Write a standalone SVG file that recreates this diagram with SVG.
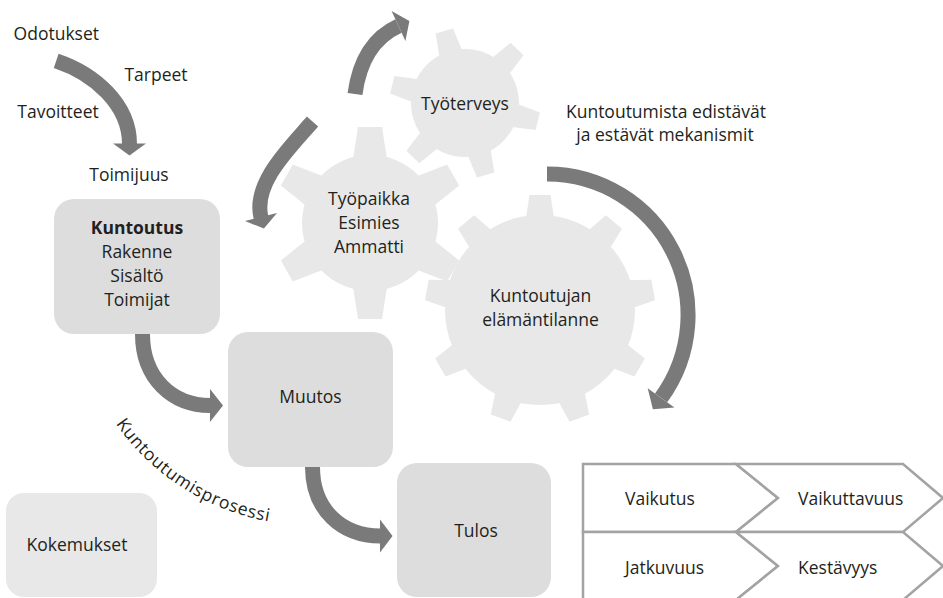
<svg xmlns="http://www.w3.org/2000/svg" width="943" height="598" viewBox="0 0 943 598">
  <style>
    text { font-family: "Open Sans", "Liberation Sans", sans-serif; font-size: 17.5px; fill: #231f20; }
    .c { text-anchor: middle; }
    .b { font-weight: 700; }
    .gear { fill: #e8e8e8; }
    .box { fill: #dddddd; }
    .box-light { fill: #e8e8e8; }
    .shaft { fill: none; stroke: #7a7a7a; stroke-width: 15; stroke-linecap: butt; }
    .head { fill: #7a7a7a; }
    .chev { fill: #ffffff; stroke: #a3a3a3; stroke-width: 2.5; stroke-linejoin: miter; }
  </style>
  <defs>
    <!-- gear teeth, drawn pointing up from the gear centre -->
    <polygon id="toothL" points="-14,-92 14,-92 10.5,-115 -10.5,-115"/>
    <polygon id="toothM" points="-17,-64 17,-64 12,-96 -12,-96"/>
    <polygon id="toothS" points="-12,-50 12,-50 9,-75 -9,-75"/>
    <path id="arcText" d="M104.8,406.5 A237,237 0 0 0 289.3,524.1" fill="none"/>
  </defs>

  <rect width="943" height="598" fill="#ffffff"/>

  <!-- input labels -->
  <g id="inputs">
    <text class="c" x="56.3" y="40">Odotukset</text>
    <text class="c" x="156" y="81">Tarpeet</text>
    <text class="c" x="58" y="118">Tavoitteet</text>
    <text class="c" x="129" y="181">Toimijuus</text>
  </g>

  <!-- gear: Työterveys -->
  <g id="gear-tyoterveys" class="gear">
    <circle cx="465" cy="103" r="54"/>
    <g transform="translate(465,103)">
      <use href="#toothS" transform="rotate(44)"/>
      <use href="#toothS" transform="rotate(104)"/>
      <use href="#toothS" transform="rotate(164)"/>
      <use href="#toothS" transform="rotate(224)"/>
      <use href="#toothS" transform="rotate(284)"/>
      <use href="#toothS" transform="rotate(344)"/>
    </g>
    <text class="c" x="465" y="110">Työterveys</text>
  </g>

  <!-- gear: Työpaikka -->
  <g id="gear-tyopaikka" class="gear">
    <circle cx="370" cy="223" r="68"/>
    <g transform="translate(370,223)">
      <use href="#toothM" transform="rotate(0)"/>
      <use href="#toothM" transform="rotate(60)"/>
      <use href="#toothM" transform="rotate(120)"/>
      <use href="#toothM" transform="rotate(180)"/>
      <use href="#toothM" transform="rotate(240)"/>
      <use href="#toothM" transform="rotate(300)"/>
    </g>
    <text class="c" x="369" y="205">Työpaikka</text>
    <text class="c" x="369" y="229">Esimies</text>
    <text class="c" x="369" y="253">Ammatti</text>
  </g>

  <!-- gear: Kuntoutujan elämäntilanne -->
  <g id="gear-elamantilanne" class="gear">
    <circle cx="540" cy="310" r="95"/>
    <g transform="translate(540,310)">
      <use href="#toothL" transform="rotate(0)"/>
      <use href="#toothL" transform="rotate(40)"/>
      <use href="#toothL" transform="rotate(80)"/>
      <use href="#toothL" transform="rotate(120)"/>
      <use href="#toothL" transform="rotate(160)"/>
      <use href="#toothL" transform="rotate(200)"/>
      <use href="#toothL" transform="rotate(240)"/>
      <use href="#toothL" transform="rotate(280)"/>
      <use href="#toothL" transform="rotate(320)"/>
    </g>
    <text class="c" x="540.5" y="302">Kuntoutujan</text>
    <text class="c" x="540.5" y="326">elämäntilanne</text>
  </g>

  <g id="mechanisms-label">
    <text class="c" x="666" y="117.5">Kuntoutumista edistävät</text>
    <text class="c" x="665" y="140.5">ja estävät mekanismit</text>
  </g>

  <!-- process boxes -->
  <g id="kuntoutus">
    <rect class="box" x="54" y="199" width="166" height="135" rx="20"/>
    <text class="c b" x="137" y="233.5">Kuntoutus</text>
    <text class="c" x="137" y="257.5">Rakenne</text>
    <text class="c" x="137" y="281.5">Sisältö</text>
    <text class="c" x="137" y="305.5">Toimijat</text>
  </g>
  <g id="muutos">
    <rect class="box" x="228" y="332" width="165" height="135" rx="20"/>
    <text class="c" x="310.5" y="403">Muutos</text>
  </g>
  <g id="tulos">
    <rect class="box" x="397" y="463" width="154" height="134" rx="20"/>
    <text class="c" x="476" y="537">Tulos</text>
  </g>
  <g id="kokemukset">
    <rect class="box-light" x="6" y="493" width="151" height="104" rx="18"/>
    <text class="c" x="77" y="551">Kokemukset</text>
  </g>

  <g id="process-label">
    <text letter-spacing="0.7"><textPath href="#arcText" startOffset="50%" text-anchor="middle">Kuntoutumisprosessi</textPath></text>
  </g>

  <!-- outcome chevrons -->
  <g id="vaikutus">
    <polygon class="chev" points="583,464 736,464 778,498 736,532 583,532"/>
    <text x="625" y="505">Vaikutus</text>
  </g>
  <g id="vaikuttavuus">
    <polygon class="chev" points="736,464 903,464 943,498 903,532 736,532 778,498"/>
    <text x="798" y="505">Vaikuttavuus</text>
  </g>
  <g id="jatkuvuus">
    <polygon class="chev" points="583,532 736,532 778,566 736,600 583,600"/>
    <text x="625" y="574">Jatkuvuus</text>
  </g>
  <g id="kestavyys">
    <polygon class="chev" points="736,532 903,532 943,566 903,600 736,600 778,566"/>
    <text x="798" y="574">Kestävyys</text>
  </g>

  <!-- connectors -->
  <g id="connectors">
    <path class="shaft" d="M56.2,60.8 C94.2,73.6 129.5,104 129.5,144"/>
    <polygon class="head" points="113,143.5 146,143.5 129.5,155.5"/>

    <path class="shaft" d="M355,94 C359,64 371,38.6 398.5,26"/>
    <polygon class="head" points="391.6,11 405.4,41 409.4,21"/>

    <path class="shaft" d="M312.5,121.5 C289.6,148 252.6,183 261,217.5"/>
    <polygon class="head" points="245,221 277,213 263.9,228.6"/>

    <path class="shaft" d="M547,174 A141,141 0 0 1 661.1,397.9"/>
    <polygon class="head" points="647.7,388.2 674.4,407.6 652.9,409.2"/>

    <path class="shaft" d="M142.5,334 C142.5,378 172,405.5 210.5,405.5"/>
    <polygon class="head" points="210,389 210,422 223,405.5"/>

    <path class="shaft" d="M312.5,467 C312.5,510 342,536 380.5,536"/>
    <polygon class="head" points="380,519.5 380,552.5 392.5,536"/>
  </g>
</svg>
